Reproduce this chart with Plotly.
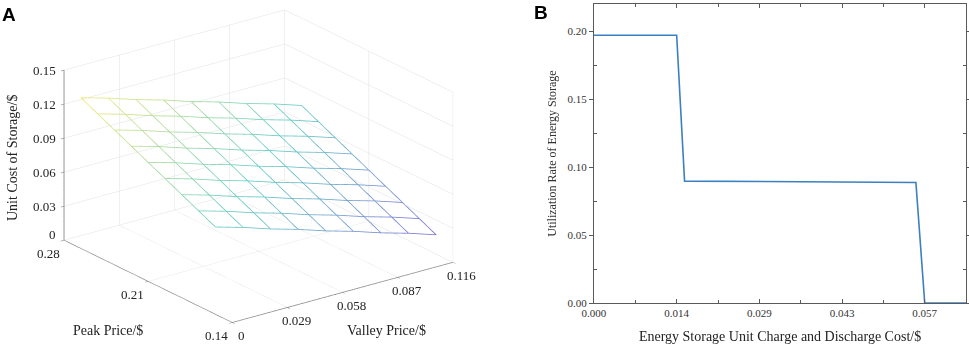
import plotly.graph_objects as go

# ---------------- Panel A data (surface grid) ----------------
peak_price = [0.154, 0.168, 0.182, 0.196, 0.210, 0.224, 0.238, 0.252, 0.266]
valley_price = [0.0, 0.0145, 0.029, 0.0435, 0.058, 0.0725, 0.087, 0.1015, 0.116]
# rows follow peak_price, columns follow valley_price
unit_cost = [
    [0.077, 0.070, 0.062, 0.055, 0.047, 0.040, 0.032, 0.025, 0.017],
    [0.084, 0.077, 0.069, 0.062, 0.054, 0.047, 0.039, 0.032, 0.024],
    [0.091, 0.084, 0.076, 0.069, 0.061, 0.054, 0.046, 0.039, 0.031],
    [0.098, 0.091, 0.083, 0.076, 0.068, 0.061, 0.053, 0.046, 0.038],
    [0.105, 0.098, 0.090, 0.083, 0.075, 0.068, 0.060, 0.053, 0.045],
    [0.112, 0.105, 0.097, 0.090, 0.082, 0.075, 0.067, 0.060, 0.052],
    [0.119, 0.112, 0.104, 0.097, 0.089, 0.082, 0.074, 0.067, 0.059],
    [0.126, 0.119, 0.111, 0.104, 0.096, 0.089, 0.081, 0.074, 0.066],
    [0.133, 0.126, 0.118, 0.111, 0.103, 0.096, 0.088, 0.081, 0.073],
]
peak_ticks = [0.14, 0.21, 0.28]
peak_ticktext = ["0.14", "0.21", "0.28"]
valley_ticks = [0.0, 0.029, 0.058, 0.087, 0.116]
valley_ticktext = ["0", "0.029", "0.058", "0.087", "0.116"]
cost_ticks = [0.0, 0.03, 0.06, 0.09, 0.12, 0.15]
cost_ticktext = ["0", "0.03", "0.06", "0.09", "0.12", "0.15"]

# ---------------- Panel B data (step curve) ----------------
charge_cost = [0.0, 0.01433, 0.0157, 0.0287, 0.043, 0.0558, 0.05733, 0.0645]
utilization = [0.197, 0.197, 0.0897, 0.0893, 0.0890, 0.0887, 0.0, 0.0]
b_xticks = [0.0, 0.01433, 0.02867, 0.043, 0.05733]
b_xticktext = ["0.000", "0.014", "0.029", "0.043", "0.057"]
b_yticks = [0.0, 0.05, 0.10, 0.15, 0.20]
b_yticktext = ["0.00", "0.05", "0.10", "0.15", "0.20"]

SERIF = "Liberation Serif, Times New Roman, serif"
TICKFONT3 = dict(family=SERIF, size=13, color="#222")
cscale = [[0.0, "rgb(125,110,215)"], [0.5, "rgb(95,205,195)"], [1.0, "rgb(242,232,115)"]]
zmin = min(min(r) for r in unit_cost)
zmax = max(max(r) for r in unit_cost)

fig = go.Figure()

# wireframe: lines of constant peak price
for i, p in enumerate(peak_price):
    fig.add_trace(go.Scatter3d(
        x=valley_price, y=[p] * len(valley_price), z=unit_cost[i],
        mode="lines", showlegend=False, hoverinfo="skip",
        line=dict(color=unit_cost[i], colorscale=cscale, cmin=zmin, cmax=zmax, width=1.6),
        scene="scene"))
# lines of constant valley price
for j, v in enumerate(valley_price):
    col = [unit_cost[i][j] for i in range(len(peak_price))]
    fig.add_trace(go.Scatter3d(
        x=[v] * len(peak_price), y=peak_price, z=col,
        mode="lines", showlegend=False, hoverinfo="skip",
        line=dict(color=col, colorscale=cscale, cmin=zmin, cmax=zmax, width=1.6),
        scene="scene"))

fig.add_trace(go.Scatter(
    x=charge_cost, y=utilization, mode="lines", showlegend=False,
    line=dict(color="rgb(58,128,195)", width=1.6), xaxis="x", yaxis="y"))

ax3 = dict(showbackground=False, gridcolor="rgb(225,225,225)", gridwidth=1,
           showline=True, linecolor="rgb(110,110,110)", linewidth=1.5,
           ticks="outside", tickcolor="rgb(110,110,110)", ticklen=4,
           showticklabels=False, showspikes=False, zeroline=False, title=dict(text=""))

# 3D tick labels as scene annotations (placed like the reference)
tick_ann = []
for val, txt in zip(cost_ticks, cost_ticktext):
    tick_ann.append(dict(x=0, y=peak_ticks[-1], z=val, text=txt, showarrow=False,
                         xanchor="right", yanchor="middle", xshift=-6, yshift=(6 if val == 0 else 0),
                         font=TICKFONT3))
for val, txt in zip(peak_ticks, peak_ticktext):
    tick_ann.append(dict(x=0, y=val, z=0, text=txt, showarrow=False,
                         xanchor="center", yanchor="middle", xshift=-15, yshift=-13, font=TICKFONT3))
for val, txt in zip(valley_ticks, valley_ticktext):
    tick_ann.append(dict(x=val, y=peak_ticks[0], z=0, text=txt, showarrow=False,
                         xanchor="center", yanchor="middle", xshift=10, yshift=-13, font=TICKFONT3))

S = 1.62
fig.update_layout(
    width=969, height=347,
    margin=dict(l=0, r=0, t=0, b=0),
    paper_bgcolor="white", plot_bgcolor="white",
    scene=dict(
        domain=dict(x=[0.016, 0.516], y=[0.0, 1.0]),
        xaxis=dict(ax3, range=[0, 0.116], tickvals=valley_ticks),
        yaxis=dict(ax3, range=[0.14, 0.28], tickvals=peak_ticks),
        zaxis=dict(ax3, range=[0, 0.15], tickvals=cost_ticks),
        aspectmode="manual", aspectratio=dict(x=0.98 * S, y=1 * S, z=0.65 * S),
        camera=dict(eye=dict(x=-1.12, y=-1.5, z=0.69), center=dict(x=0, y=0, z=-0.045),
                    up=dict(x=0, y=0, z=1), projection=dict(type="orthographic")),
        annotations=tick_ann,
    ),
    xaxis=dict(domain=[0.613, 0.997], range=[0, 0.0645], tickvals=b_xticks, ticktext=b_xticktext,
               automargin=False,
               showline=True, linecolor="rgb(90,90,90)", linewidth=1.2, mirror="ticks",
               ticks="inside", ticklen=4, tickcolor="rgb(90,90,90)",
               minor=dict(tickvals=[0.00717, 0.0215, 0.03583, 0.05017], ticks="inside", ticklen=3,
                          tickcolor="rgb(90,90,90)"),
               showgrid=False, zeroline=False,
               tickfont=dict(family=SERIF, size=11, color="#333"),
               title=dict(text="Energy Storage Unit Charge and Discharge Cost/$",
                          font=dict(family=SERIF, size=14, color="#222"), standoff=12)),
    yaxis=dict(domain=[0.1268, 0.9885], range=[0, 0.22], tickvals=b_yticks, ticktext=b_yticktext,
               automargin=False,
               showline=True, linecolor="rgb(90,90,90)", linewidth=1.2, mirror="ticks",
               ticks="outside", ticklen=4, tickcolor="rgb(90,90,90)",
               minor=dict(tickvals=[0.025, 0.075, 0.125, 0.175], ticks="inside", ticklen=3,
                          tickcolor="rgb(90,90,90)"),
               showgrid=False, zeroline=False,
               tickfont=dict(family=SERIF, size=11, color="#333"),
               title=dict(text="Utilization Rate of Energy Storage",
                          font=dict(family=SERIF, size=12, color="#333"), standoff=8)),
    annotations=[
        dict(text="<b>A</b>", x=0.0, y=1.0, xref="paper", yref="paper", xanchor="left", yanchor="top",
             yshift=-2, showarrow=False, font=dict(family="Liberation Sans, Arial", size=19, color="black")),
        dict(text="<b>B</b>", x=532 / 969, y=1.0, xref="paper", yref="paper", xanchor="left", yanchor="top",
             showarrow=False, font=dict(family="Liberation Sans, Arial", size=19, color="black")),
        dict(text="Unit Cost of Storage/$", x=12 / 969, y=(347 - 158) / 347, xref="paper", yref="paper",
             xanchor="center", yanchor="middle",
             textangle=-90, showarrow=False, font=dict(family=SERIF, size=14, color="#222")),
        dict(text="Peak Price/$", x=108 / 969, y=(347 - 330) / 347, xref="paper", yref="paper",
             xanchor="center", yanchor="middle",
             showarrow=False, font=dict(family=SERIF, size=14, color="#222")),
        dict(text="Valley Price/$", x=386 / 969, y=(347 - 330) / 347, xref="paper", yref="paper",
             xanchor="center", yanchor="middle",
             showarrow=False, font=dict(family=SERIF, size=14, color="#222")),
    ],
)

fig.write_html("out.html", config={"displayModeBar": False},
               post_script="document.body.style.margin='0px';document.body.style.overflow='hidden';")
